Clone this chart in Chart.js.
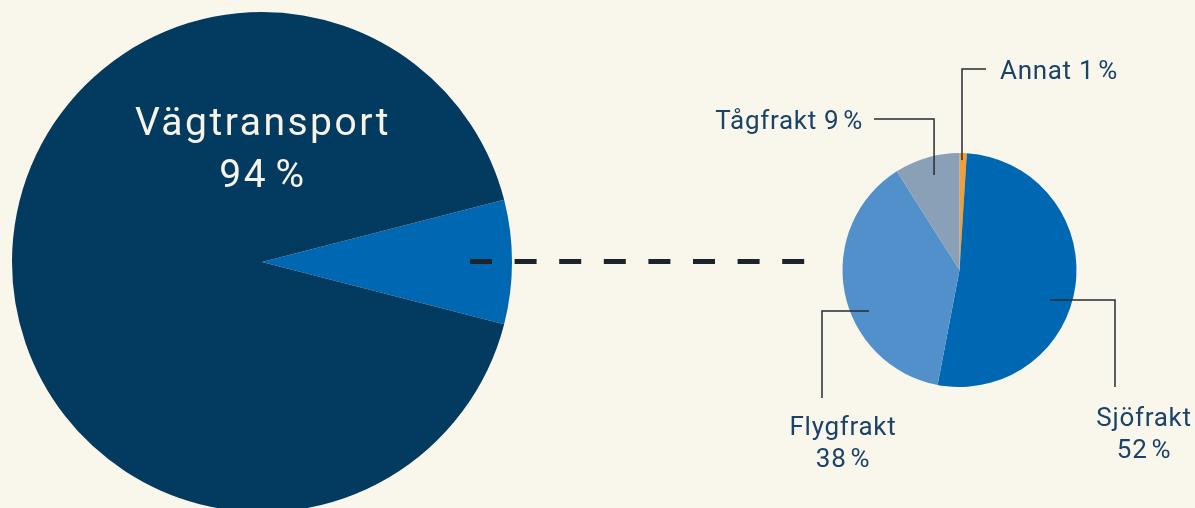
<!DOCTYPE html>
<html>
<head>
<meta charset="utf-8">
<script src="https://cdn.jsdelivr.net/npm/chart.js@4.4.1/dist/chart.umd.min.js"></script>
<style>
  html, body { margin: 0; padding: 0; background: #f9f6ec; overflow: hidden; }
  #wrap { position: relative; width: 1195px; height: 508px; overflow: hidden; }
  canvas { position: absolute; left: 0; top: 0; }
  .lbl {
    position: absolute; font-family: Roboto, sans-serif; font-size: 26px;
    line-height: 32px; color: #1b4267; white-space: nowrap; letter-spacing: 0.7px;
  }
  .center { transform: translateX(-50%); text-align: center; }
  .big { font-size: 39px; line-height: 52px; color: #f7f3e6; letter-spacing: 2.5px; }
</style>
</head>
<body>
<div id="wrap">
  <canvas id="bigPie" width="1195" height="520"></canvas>
  <canvas id="smallPie" width="1195" height="508"></canvas>
  <div class="lbl big center" id="roadLabel" style="left:263px; top:96px;"></div>
  <div class="lbl" id="lbl0" style="left:1000px; top:54px;"></div>
  <div class="lbl" id="lbl3" style="right:332px; top:104px;"></div>
  <div class="lbl center" id="lbl2" style="left:843px; top:410px;"></div>
  <div class="lbl center" id="lbl1" style="left:1144px; top:401px;"></div>
</div>
<script>
// Road transport vs. the rest
const roadModes = ['Övriga', 'Vägtransport'];
const roadShare = [6, 94];          // stated percentages
const roadWedgeDrawn = [8, 92];     // the wedge in the picture is drawn a bit wider
const roadColors = ['#0068b2', '#033a5f'];

// Breakdown of the remaining share
const otherModes = ['Annat', 'Sjöfrakt', 'Flygfrakt', 'Tågfrakt'];
const otherShare = [1, 52, 38, 9];
const otherColors = ['#f2a036', '#0068b2', '#5290cc', '#8aa0b7'];

const pct = (v) => v + '\u202F%';

// Labels
document.getElementById('roadLabel').innerHTML = roadModes[1] + '<br>' + pct(roadShare[1]);
document.getElementById('lbl0').textContent = otherModes[0] + ' ' + pct(otherShare[0]);
document.getElementById('lbl3').textContent = otherModes[3] + ' ' + pct(otherShare[3]);
document.getElementById('lbl2').innerHTML = otherModes[2] + '<br>' + pct(otherShare[2]);
document.getElementById('lbl1').innerHTML = otherModes[1] + '<br>' + pct(otherShare[1]);

// Dashed connector between the two pies
const connectorPlugin = {
  id: 'connector',
  afterDatasetsDraw(chart) {
    const arc = chart.getDatasetMeta(0).data[0];
    const { x, y, outerRadius } = arc.getProps(['x', 'y', 'outerRadius'], true);
    const ctx = chart.ctx;
    ctx.save();
    ctx.strokeStyle = '#1c232a';
    ctx.lineWidth = 5;
    ctx.setLineDash([22, 22.6]);
    ctx.beginPath();
    ctx.moveTo(x + outerRadius * 0.832, y - 0.5);
    ctx.lineTo(805, y - 0.5);
    ctx.stroke();
    ctx.restore();
  }
};

// Leader lines: anchor inside the slice (angle from top, fraction of radius), elbow, end
const leaders = [
  { angle: 1.3, r: 0.94, first: 'v', x: 986, y: 69 },
  { angle: 108.3, r: 0.815, first: 'h', x: 1115, y: 387 },
  { angle: 245.6, r: 0.85, first: 'h', x: 822, y: 398 },
  { angle: 345, r: 0.84, first: 'v', x: 874, y: 119 }
];

const leaderPlugin = {
  id: 'leaders',
  afterDatasetsDraw(chart) {
    const arc = chart.getDatasetMeta(0).data[0];
    const { x: cx, y: cy, outerRadius: R } = arc.getProps(['x', 'y', 'outerRadius'], true);
    const ctx = chart.ctx;
    ctx.save();
    ctx.strokeStyle = '#262c33';
    ctx.lineWidth = 1.5;
    leaders.forEach((l) => {
      const a = l.angle * Math.PI / 180;
      const ax = cx + Math.sin(a) * R * l.r;
      const ay = cy - Math.cos(a) * R * l.r;
      ctx.beginPath();
      ctx.moveTo(ax, ay);
      if (l.first === 'v') {
        ctx.lineTo(ax, l.y);
        ctx.lineTo(l.x, l.y);
      } else {
        ctx.lineTo(l.x, ay);
        ctx.lineTo(l.x, l.y);
      }
      ctx.stroke();
    });
    ctx.restore();
  }
};

const commonOptions = {
  responsive: false,
  animation: false,
  events: [],
  plugins: { legend: { display: false }, tooltip: { enabled: false } }
};

new Chart(document.getElementById('bigPie'), {
  type: 'pie',
  data: {
    labels: roadModes,
    datasets: [{ data: roadWedgeDrawn, backgroundColor: roadColors, borderWidth: 0 }]
  },
  options: {
    ...commonOptions,
    rotation: 90 - roadWedgeDrawn[0] * 3.6 / 2,
    layout: { padding: { left: 12, top: 12, right: 683, bottom: 8 } }
  },
  plugins: [connectorPlugin]
});

new Chart(document.getElementById('smallPie'), {
  type: 'pie',
  data: {
    labels: otherModes,
    datasets: [{ data: otherShare, backgroundColor: otherColors, borderWidth: 0 }]
  },
  options: {
    ...commonOptions,
    rotation: 0,
    layout: { padding: { left: 842.5, top: 153, right: 118.5, bottom: 121 } }
  },
  plugins: [leaderPlugin]
});
</script>
</body>
</html>
